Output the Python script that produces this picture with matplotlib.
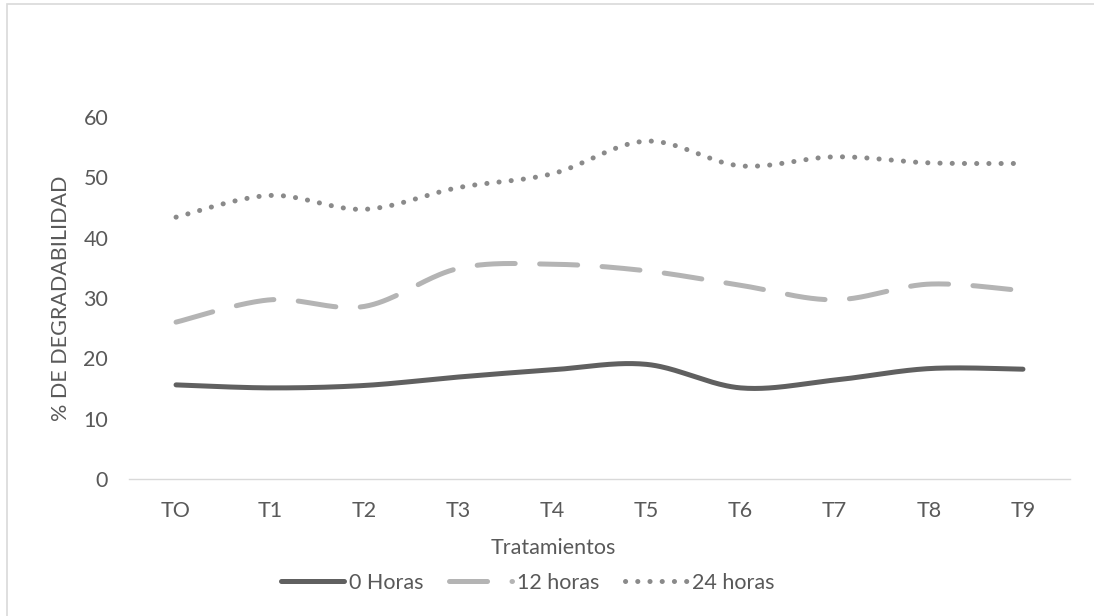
import numpy as np
import matplotlib
matplotlib.use("Agg")
import matplotlib.pyplot as plt
from matplotlib.patches import Rectangle

plt.rcParams['font.family'] = ['Lato', 'DejaVu Sans']
plt.rcParams['lines.scale_dashes'] = False

# Data
tratamientos = ["TO", "T1", "T2", "T3", "T4", "T5", "T6", "T7", "T8", "T9"]
horas_0 = [15.6, 15.1, 15.5, 16.9, 18.1, 19.0, 15.1, 16.4, 18.3, 18.2]
horas_12 = [26.0, 29.7, 28.6, 34.9, 35.6, 34.5, 32.1, 29.7, 32.3, 31.2]
horas_24 = [43.4, 47.0, 44.7, 48.3, 50.6, 56.0, 51.9, 53.4, 52.4, 52.3]

TEXT = "#595959"
FS = 15.5


def smooth(y, n=40):
    """Catmull-Rom curve through the points (x = category index)."""
    y = np.asarray(y, float)
    x = np.arange(len(y), dtype=float)
    px = np.concatenate([[x[0]], x, [x[-1]]])
    py = np.concatenate([[y[0]], y, [y[-1]]])
    xs, ys = [], []
    t = np.linspace(0, 1, n, endpoint=False)
    for i in range(1, len(px) - 2):
        p0x, p1x, p2x, p3x = px[i - 1], px[i], px[i + 1], px[i + 2]
        p0y, p1y, p2y, p3y = py[i - 1], py[i], py[i + 1], py[i + 2]
        c1x, c1y = p1x + (p2x - p0x) / 6, p1y + (p2y - p0y) / 6
        c2x, c2y = p2x - (p3x - p1x) / 6, p2y - (p3y - p1y) / 6
        b0 = (1 - t) ** 3
        b1 = 3 * (1 - t) ** 2 * t
        b2 = 3 * (1 - t) * t ** 2
        b3 = t ** 3
        xs.append(b0 * p1x + b1 * c1x + b2 * c2x + b3 * p2x)
        ys.append(b0 * p1y + b1 * c1y + b2 * c2y + b3 * p2y)
    xs.append([x[-1]])
    ys.append([y[-1]])
    return np.concatenate(xs), np.concatenate(ys)


W, H = 1094, 616
fig = plt.figure(figsize=(W / 100, H / 100), dpi=100)
fig.patch.set_facecolor("white")

# outer chart border (light gray)
fig.patches.append(Rectangle((7 / W, -0.05), 1.2, (H - 4) / H + 0.05,
                             transform=fig.transFigure, fill=False,
                             edgecolor="#d9d9d9", linewidth=1.2))

ax = fig.add_axes([129 / W, 1 - 479 / H, (1070 - 129) / W, (479 - 117) / H])
ax.set_xlim(-0.5, len(tratamientos) - 0.5)
ax.set_ylim(0, 60)

lw = 3.6
xs, ys = smooth(horas_0)
ax.plot(xs, ys, color="#606060", lw=lw, solid_capstyle="round", label="0 Horas")
xs, ys = smooth(horas_12)
ax.plot(xs, ys, color="#b4b4b4", lw=lw, dashes=(27.4, 17.6),
        dash_capstyle="round", label="12 horas")
xs, ys = smooth(horas_24)
ax.plot(xs, ys, color="#8a8a8a", lw=lw, dashes=(0.1, 8.7),
        dash_capstyle="round", label="24 horas")

ax.set_xticks(range(len(tratamientos)))
ax.set_xticklabels(tratamientos)
ax.set_yticks(range(0, 61, 10))
ax.tick_params(axis="both", length=0, labelsize=FS, labelcolor=TEXT)
ax.tick_params(axis="y", pad=15)
ax.tick_params(axis="x", pad=16)

for s in ["top", "right", "left"]:
    ax.spines[s].set_visible(False)
ax.spines["bottom"].set_color("#d9d9d9")
ax.spines["bottom"].set_linewidth(1.0)

fig.text(61 / W, 1 - 298 / H, "% DE DEGRADABILIDAD", fontsize=FS, color=TEXT,
         rotation=90, ha="center", va="center")

fig.text(553 / W, 1 - 548 / H, "Tratamientos", fontsize=FS, color=TEXT,
         ha="center", va="center")

handles, labels = ax.get_legend_handles_labels()
leg = fig.legend(handles, labels, loc="center", bbox_to_anchor=(528 / W, 1 - 583 / H),
                 ncol=3, frameon=False, fontsize=FS, handlelength=2.93,
                 handletextpad=0.2, columnspacing=1.2, borderaxespad=0)
for t in leg.get_texts():
    t.set_color(TEXT)

fig.savefig("out.png", dpi=100, facecolor="white")
